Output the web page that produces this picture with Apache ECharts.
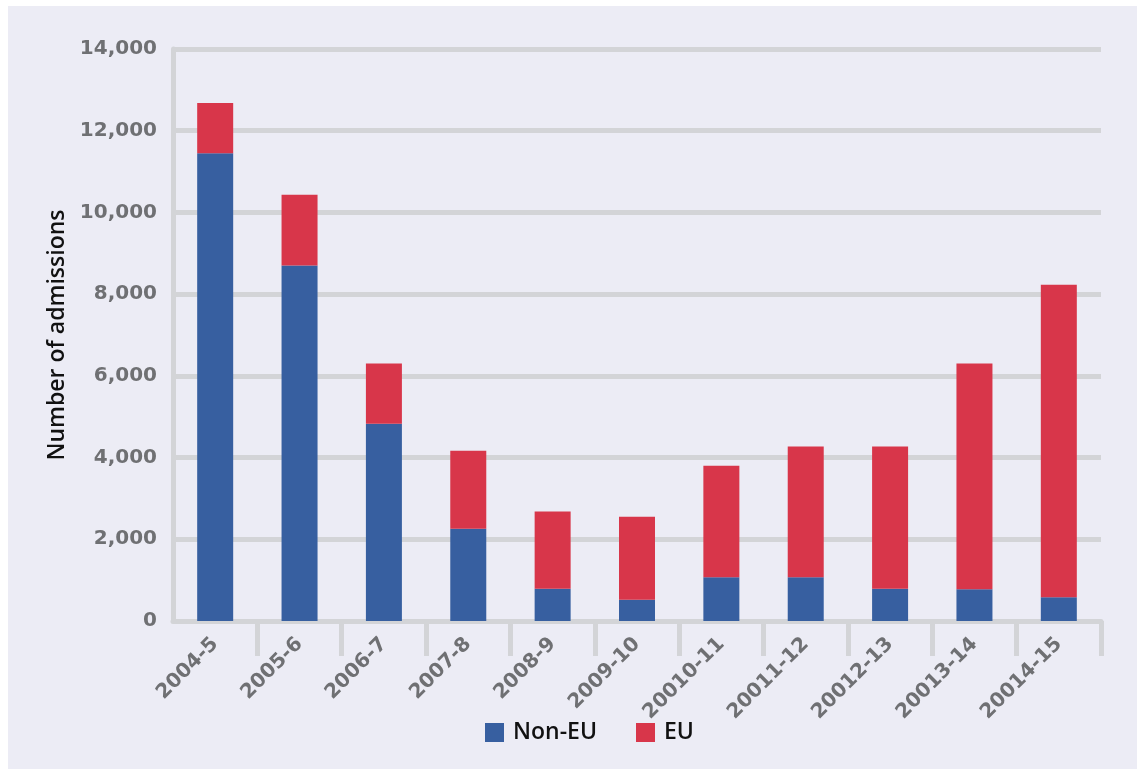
<!DOCTYPE html>
<html>
<head>
<meta charset="utf-8">
<title>Number of admissions</title>
<script src="https://cdn.jsdelivr.net/npm/echarts@6/dist/echarts.min.js"></script>
<style>
  html, body { margin: 0; padding: 0; background: #ffffff; }
  #chart { position: absolute; left: 8px; top: 6px; width: 1129px; height: 763px; }
</style>
</head>
<body>
<div id="chart"></div>
<script>
// Admission years (labels kept as printed)
const categories = ['2004-5', '2005-6', '2006-7', '2007-8', '2008-9', '2009-10',
  '20010-11', '20011-12', '20012-13', '20013-14', '20014-15'];

// Admissions by origin
const nonEU = [11450, 8700, 4830, 2260, 790, 520, 1070, 1070, 790, 780, 580];
const eu = [1230, 1730, 1470, 1910, 1890, 2030, 2730, 3200, 3480, 5520, 7650];

// Value axis ticks
const yTicks = [0, 2000, 4000, 6000, 8000, 10000, 12000, 14000];

const gridGrey = '#d3d4d7';
const labelGrey = '#6f7073';

const chart = echarts.init(document.getElementById('chart'));

chart.setOption({
  backgroundColor: '#ececf5',
  animation: false,
  grid: { left: 165, right: 36, top: 43, bottom: 148 },
  legend: {
    left: 472,
    top: 710,
    itemWidth: 19,
    itemHeight: 19,
    itemGap: 39,
    icon: 'rect',
    textStyle: {
      fontFamily: 'Open Sans',
      fontWeight: 600,
      fontSize: 23,
      color: '#111111',
      padding: [0, 0, 0, 4]
    },
    data: ['Non-EU', 'EU']
  },
  xAxis: {
    type: 'category',
    data: categories,
    axisLine: { lineStyle: { color: gridGrey, width: 5 } },
    axisTick: {
      show: true,
      length: 35,
      lineStyle: { color: gridGrey, width: 5 },
      interval: function (index) { return index !== 0; }
    },
    axisLabel: {
      rotate: 45,
      margin: 20,
      fontFamily: 'DejaVu Sans',
      fontWeight: 'bold',
      fontSize: 20,
      color: labelGrey
    }
  },
  yAxis: {
    type: 'value',
    min: yTicks[0],
    max: yTicks[yTicks.length - 1],
    interval: yTicks[1] - yTicks[0],
    name: 'Number of admissions',
    nameLocation: 'middle',
    nameGap: 104,
    nameTextStyle: {
      fontFamily: 'Open Sans',
      fontWeight: 600,
      fontSize: 23,
      color: '#111111'
    },
    axisLine: { show: true, lineStyle: { color: gridGrey, width: 5 } },
    axisTick: { show: false },
    splitLine: { lineStyle: { color: gridGrey, width: 5 } },
    axisLabel: {
      margin: 16,
      fontFamily: 'DejaVu Sans',
      fontWeight: 'bold',
      fontSize: 20,
      color: labelGrey,
      formatter: function (v) { return v.toLocaleString('en-US'); }
    }
  },
  series: [
    {
      name: 'Non-EU',
      type: 'bar',
      stack: 'total',
      barWidth: 36,
      itemStyle: { color: '#375fa0' },
      data: nonEU
    },
    {
      name: 'EU',
      type: 'bar',
      stack: 'total',
      barWidth: 36,
      itemStyle: { color: '#d8364a' },
      data: eu
    }
  ]
});
</script>
</body>
</html>
